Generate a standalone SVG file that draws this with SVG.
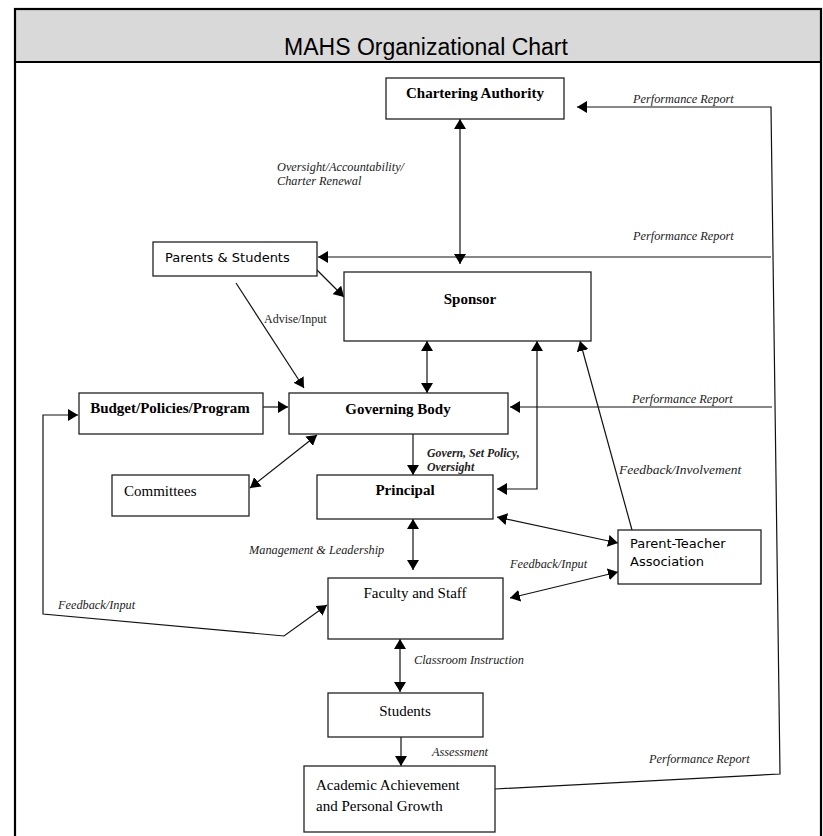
<svg xmlns="http://www.w3.org/2000/svg" width="823" height="836" viewBox="0 0 823 836">
<style>
.box{fill:#fff;stroke:#222;stroke-width:1.3}
.b{font-family:"Liberation Serif",serif;font-weight:bold;font-size:15px;fill:#000}
.r{font-family:"Liberation Serif",serif;font-size:15px;fill:#000}
.s{font-family:"DejaVu Sans",sans-serif;font-size:13px;fill:#000}
.i{font-family:"Liberation Serif",serif;font-style:italic;font-size:12.3px;fill:#222}
.bi{font-family:"Liberation Serif",serif;font-style:italic;font-weight:bold;font-size:11.8px;fill:#222}
.ln{fill:none;stroke:#111;stroke-width:1.2}
</style>
<defs>
<marker id="ah" viewBox="0 0 10 12" refX="10" refY="6" markerWidth="10" markerHeight="12" markerUnits="userSpaceOnUse" orient="auto-start-reverse">
<path d="M0,0 L10,6 L0,12 z" fill="#000"/>
</marker>
</defs>
<rect x="0" y="0" width="823" height="836" fill="#fff"/>
<g id="frame">
<rect x="15" y="9" width="806" height="53" fill="#d9d9d9"/>
<rect x="15" y="9" width="806" height="900" fill="none" stroke="#000" stroke-width="2.2"/>
<line x1="15" y1="62" x2="821" y2="62" stroke="#000" stroke-width="2.2"/>
<text x="426" y="55" text-anchor="middle" style="font-family:'Liberation Sans',sans-serif;font-size:23px;fill:#000">MAHS Organizational Chart</text>
</g>
<g id="connectors">
<path class="ln" d="M460,119 L460,264" marker-start="url(#ah)" marker-end="url(#ah)"/>
<path class="ln" d="M495,789 L780,774 L771,107 L577,107" marker-end="url(#ah)"/>
<path class="ln" d="M771,257 L318,257" marker-end="url(#ah)"/>
<path class="ln" d="M772,407 L510,407" marker-end="url(#ah)"/>
<path class="ln" d="M314,267 L344,297" marker-end="url(#ah)"/>
<path class="ln" d="M236,283 L304,388" marker-end="url(#ah)"/>
<path class="ln" d="M263,407 L288,407" marker-end="url(#ah)"/>
<path class="ln" d="M427,341 L427,393" marker-start="url(#ah)" marker-end="url(#ah)"/>
<path class="ln" d="M327,605 L284,636 L43,614 L43,415 L78,415" marker-start="url(#ah)" marker-end="url(#ah)"/>
<path class="ln" d="M317,435 L250,488" marker-start="url(#ah)" marker-end="url(#ah)"/>
<path class="ln" d="M413,434 L413,475" marker-end="url(#ah)"/>
<path class="ln" d="M537,341 L537,489 L497,489" marker-start="url(#ah)" marker-end="url(#ah)"/>
<path class="ln" d="M632,530 L580,341" marker-end="url(#ah)"/>
<path class="ln" d="M497,517 L618,543" marker-start="url(#ah)" marker-end="url(#ah)"/>
<path class="ln" d="M413,519 L413,570" marker-start="url(#ah)" marker-end="url(#ah)"/>
<path class="ln" d="M618,572 L510,598" marker-start="url(#ah)" marker-end="url(#ah)"/>
<path class="ln" d="M400,639 L400,692" marker-start="url(#ah)" marker-end="url(#ah)"/>
<path class="ln" d="M401,737 L401,766" marker-end="url(#ah)"/>
<text class="i" x="277" y="171">Oversight/Accountability/</text>
<text class="i" x="277" y="185">Charter Renewal</text>
<text class="i" x="633" y="103">Performance Report</text>
<text class="i" x="633" y="240">Performance Report</text>
<text class="i" x="632" y="403">Performance Report</text>
<text class="i" x="649" y="763">Performance Report</text>
<text x="264" y="323" style="font-family:'Liberation Serif',serif;font-size:12px;fill:#222">Advise/Input</text>
<text class="bi" x="427" y="457">Govern, Set Policy,</text>
<text class="bi" x="427" y="471">Oversight</text>
<text class="i" x="619" y="474" style="font-size:13.5px">Feedback/Involvement</text>
<text class="i" x="249" y="554">Management &amp; Leadership</text>
<text class="i" x="510" y="568">Feedback/Input</text>
<text class="i" x="58" y="609">Feedback/Input</text>
<text class="i" x="414" y="664">Classroom Instruction</text>
<text class="i" x="432" y="756">Assessment</text>
</g>
<g id="chartering-authority">
<rect class="box" x="386" y="78" width="178" height="41"/>
<text class="b" x="475" y="98" text-anchor="middle">Chartering Authority</text>
</g>
<g id="parents-students">
<rect class="box" x="153" y="242" width="164" height="34"/>
<text class="s" x="165" y="262">Parents &amp; Students</text>
</g>
<g id="sponsor">
<rect class="box" x="344" y="272" width="247" height="69"/>
<text class="b" x="470" y="304" text-anchor="middle">Sponsor</text>
</g>
<g id="budget">
<rect class="box" x="79" y="393" width="184" height="41"/>
<text class="b" x="170" y="413" text-anchor="middle">Budget/Policies/Program</text>
</g>
<g id="governing-body">
<rect class="box" x="289" y="393" width="219" height="41"/>
<text class="b" x="398" y="414" text-anchor="middle">Governing Body</text>
</g>
<g id="committees">
<rect class="box" x="112" y="475" width="137" height="41"/>
<text class="r" x="124" y="496">Committees</text>
</g>
<g id="principal">
<rect class="box" x="317" y="475" width="176" height="44"/>
<text class="b" x="405" y="495" text-anchor="middle">Principal</text>
</g>
<g id="pta">
<rect class="box" x="618" y="530" width="143" height="54"/>
<text class="s" x="630" y="548">Parent-Teacher</text>
<text class="s" x="630" y="566">Association</text>
</g>
<g id="faculty-staff">
<rect class="box" x="328" y="578" width="175" height="61"/>
<text class="r" x="415" y="598" text-anchor="middle">Faculty and Staff</text>
</g>
<g id="students">
<rect class="box" x="328" y="693" width="155" height="44"/>
<text class="r" x="405" y="716" text-anchor="middle">Students</text>
</g>
<g id="academic">
<rect class="box" x="304" y="766" width="191" height="66"/>
<text class="r" x="316" y="790">Academic Achievement</text>
<text class="r" x="316" y="811">and Personal Growth</text>
</g>
</svg>
